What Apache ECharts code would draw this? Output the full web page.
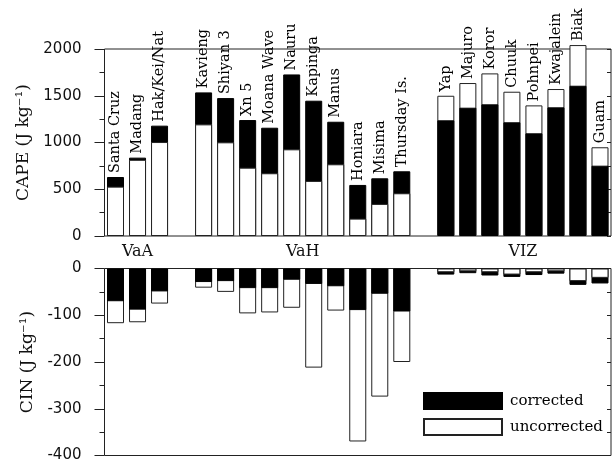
<!DOCTYPE html>
<html>
<head>
<meta charset="utf-8">
<script src="https://cdn.jsdelivr.net/npm/echarts@6/dist/echarts.min.js"></script>
<style>
html,body{margin:0;padding:0;background:#fff;}
#chart{width:613px;height:463px;}
</style>
</head>
<body>
<div id="chart"></div>
<script>
const categories = ['Santa Cruz','Madang','Hak/Kei/Nat','','Kavieng','Shiyan 3','Xn 5','Moana Wave','Nauru','Kapinga','Manus','Honiara','Misima','Thursday Is.','','Yap','Majuro','Koror','Chuuk','Pohnpei','Kwajalein','Biak','Guam'];
const capeCorrected   = [631, 838, 1180, null, 1536, 1475, 1240, 1158, 1728, 1447, 1222, 546, 617, 692, null, 1237, 1372, 1408, 1216, 1098, 1376, 1607, 752];
const capeUncorrected = [528, 815, 1005, null, 1194, 1002, 731, 671, 927, 589, 767, 186, 343, 457, null, 1500, 1636, 1739, 1543, 1397, 1572, 2042, 949];
const cinCorrected    = [-70, -88, -49, null, -29, -27, -42, -42, -24, -33, -38, -89, -54, -92, null, -13, -10, -15, -18, -14, -11, -35, -32];
const cinUncorrected  = [-117, -115, -75, null, -41, -50, -96, -94, -84, -212, -90, -370, -274, -200, null, -8, -6, -8, -13, -8, -6, -27, -20];
const groupNames = ['VaA', 'VaH', 'VIZ'];
const groupFirst = [0, 4, 15];
const groupLast  = [2, 13, 22];
const capeTicks = [0, 2000, 500];
const cinTicks = [-400, 0, 100];

const SERIF = '"DejaVu Serif", serif';
const SANS = '"DejaVu Sans", sans-serif';
const BW = 17;

function split(c, u) {
  const behind = [], front = [], top = [];
  for (let i = 0; i < c.length; i++) {
    if (c[i] == null) { behind.push('-'); front.push('-'); top.push('-'); continue; }
    const cBig = Math.abs(c[i]) >= Math.abs(u[i]);
    behind.push(cBig ? c[i] : '-');
    front.push(cBig ? '-' : c[i]);
    top.push(cBig ? c[i] : u[i]);
  }
  return {behind, front, top};
}
const capeSplit = split(capeCorrected, capeUncorrected);
const cinSplit = split(cinCorrected, cinUncorrected);
const uncorr = a => a.map(v => v == null ? '-' : v);

const blackStyle = {color: '#000', borderColor: '#000', borderWidth: 1};
const whiteStyle = {color: '#fff', borderColor: '#222', borderWidth: 1};

function bars(xi, yi, sp, u, withLabels) {
  const common = {type: 'bar', xAxisIndex: xi, yAxisIndex: yi, barWidth: BW, barGap: '-100%', clip: false, silent: true};
  const out = [];
  if (withLabels) {
    out.push(Object.assign({}, common, {
      name: 'labels', data: sp.top, z: 1,
      itemStyle: {color: 'rgba(0,0,0,0)', borderWidth: 0},
      label: {show: true, position: 'top', rotate: 90, align: 'left', verticalAlign: 'middle', distance: 4,
        formatter: p => categories[p.dataIndex], fontFamily: SERIF, fontSize: 14.5, color: '#000'}
    }));
  }
  out.push(Object.assign({}, common, {name: 'corrected', data: sp.behind, z: 2, itemStyle: blackStyle}));
  out.push(Object.assign({}, common, {name: 'uncorrected', data: uncorr(u), z: 3, itemStyle: whiteStyle}));
  out.push(Object.assign({}, common, {name: 'corrected', data: sp.front, z: 4, itemStyle: blackStyle}));
  return out;
}

const groupCenters = groupNames.map((g, i) => (groupFirst[i] + groupLast[i] + 1) / 2);

function leftAxis(gi, t, name) {
  return {
    type: 'value', gridIndex: gi, position: 'left', min: t[0], max: t[1], interval: t[2],
    axisLine: {show: false},
    axisTick: {show: true, inside: false, length: 10, lineStyle: {color: '#222'}},
    minorTick: {show: true, splitNumber: 2, length: 5, lineStyle: {color: '#222'}},
    splitLine: {show: false}, minorSplitLine: {show: false},
    axisLabel: {fontFamily: SANS, fontSize: 15, color: '#111', margin: 23, formatter: v => String(v)},
    name: name, nameLocation: 'middle', nameGap: 67, nameRotate: 90,
    nameTextStyle: {fontFamily: SERIF, fontSize: 17, color: '#111'}
  };
}
function rightAxis(gi, t) {
  return {
    type: 'value', gridIndex: gi, position: 'right', min: t[0], max: t[1], interval: t[2] / 2,
    axisLine: {show: false},
    axisTick: {show: true, inside: true, length: 4, lineStyle: {color: '#222'}},
    axisLabel: {show: false}, splitLine: {show: false}
  };
}
function catAxis(gi) {
  return {type: 'category', gridIndex: gi, data: categories, boundaryGap: true,
    axisLine: {show: false}, axisTick: {show: false}, axisLabel: {show: false}, splitLine: {show: false}};
}

const option = {
  animation: false,
  backgroundColor: '#fff',
  grid: [
    {left: 104.5, top: 49, width: 506.5, height: 187, show: true, borderColor: '#222', borderWidth: 1, backgroundColor: 'transparent'},
    {left: 104.5, top: 268.5, width: 506.5, height: 188.5, show: true, borderColor: '#222', borderWidth: 1, backgroundColor: 'transparent'}
  ],
  legend: {
    data: ['corrected', 'uncorrected'], orient: 'vertical', left: 418, top: 387, padding: 5,
    itemWidth: 78, itemHeight: 16, itemGap: 8, icon: 'rect', selectedMode: false,
    textStyle: {fontFamily: SERIF, fontSize: 15, color: '#000', padding: [0, 0, 0, 3]}
  },
  xAxis: [
    catAxis(0), catAxis(1),
    {type: 'value', gridIndex: 0, position: 'bottom', min: 0, max: categories.length,
      axisLine: {show: false}, axisTick: {show: false}, splitLine: {show: false},
      axisLabel: {show: true, customValues: groupCenters, margin: 8, fontFamily: SERIF, fontSize: 16, color: '#111',
        formatter: v => { const k = groupCenters.indexOf(v); return k >= 0 ? groupNames[k] : ''; }}}
  ],
  yAxis: [
    leftAxis(0, capeTicks, 'CAPE (J kg⁻¹)'), rightAxis(0, capeTicks),
    leftAxis(1, cinTicks, 'CIN (J kg⁻¹)'), rightAxis(1, cinTicks)
  ],
  series: [].concat(bars(0, 0, capeSplit, capeUncorrected, true), bars(1, 2, cinSplit, cinUncorrected, false))
};

const chart = echarts.init(document.getElementById('chart'), null, {renderer: 'canvas'});
chart.setOption(option);
</script>
</body>
</html>
